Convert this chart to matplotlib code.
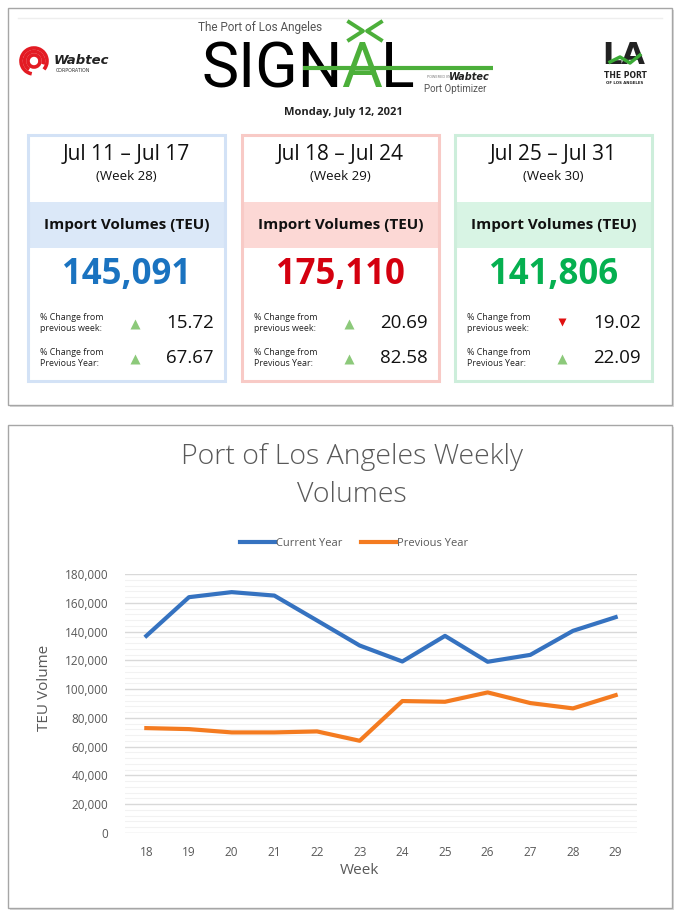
import matplotlib
matplotlib.use("Agg")
import matplotlib.pyplot as plt
from matplotlib.patches import Rectangle, Arc
from matplotlib.ticker import FuncFormatter, MultipleLocator

# ---------------- data ----------------
weeks = [18, 19, 20, 21, 22, 23, 24, 25, 26, 27, 28, 29]
current_year = [137000, 163900, 167400, 165000, 147700, 130300, 119200, 137000, 119000, 123800, 140500, 150000]
previous_year = [72900, 72200, 69900, 69900, 70600, 64100, 91700, 91200, 97700, 90300, 86600, 95800]

card_dates = ["Jul 11 \u2013 Jul 17", "Jul 18 \u2013 Jul 24", "Jul 25 \u2013 Jul 31"]
card_weeks = ["(Week 28)", "(Week 29)", "(Week 30)"]
card_volumes = ["145,091", "175,110", "141,806"]
card_week_change = ["15.72", "20.69", "19.02"]
card_week_dir = ["up", "up", "down"]
card_year_change = ["67.67", "82.58", "22.09"]
card_year_dir = ["up", "up", "up"]

W, H = 679, 913
fig = plt.figure(figsize=(W / 100, H / 100), dpi=100)
fig.patch.set_facecolor("white")

bg = fig.add_axes([0, 0, 1, 1])
bg.set_xlim(0, W)
bg.set_ylim(H, 0)
bg.axis("off")

FONT = "Open Sans"
GRAY = "#595959"

# panel frames
for (x0, y0, x1, y1) in [(8, 8, 672, 405), (8, 425, 672, 908)]:
    bg.add_patch(Rectangle((x0 + 2, y0 + 2), x1 - x0, y1 - y0, facecolor="#d9d9d9", edgecolor="none", zorder=0))
    bg.add_patch(Rectangle((x0, y0), x1 - x0, y1 - y0, facecolor="white", edgecolor="#a6a6a6", lw=1.0, zorder=1))
bg.plot([18, 662], [18, 18], color="#eeeeee", lw=1, zorder=2)

# ---------------- header ----------------
# Wabtec logo
for r, t1, t2 in [(13, 100, 400), (9.5, 120, 380), (6, 0, 360)]:
    bg.add_patch(Arc((34, 61), 2 * r, 2 * r, theta1=t1, theta2=t2, color="#e31b23", lw=2.6, zorder=3))
bg.text(54, 60, "Wabtec", fontsize=9.5, fontweight="bold", style="italic", color="#222222",
        family="DejaVu Sans", ha="left", va="center", zorder=3)
bg.text(56, 71, "CORPORATION", fontsize=3.4, color="#333333", ha="left", va="center", zorder=3)

# SIGNAL logo
bg.text(198, 27, "The Port of Los Angeles", fontsize=8.5, color="#555555", family="Roboto",
        ha="left", va="center", zorder=3)
renderer = fig.canvas.get_renderer()
x = 201
for part, col in [("SIGN", "black"), ("A", "#4caf3a"), ("L", "black")]:
    t = bg.text(x, 87, part, fontsize=45, color=col, family="Roboto", fontweight="normal",
                ha="left", va="baseline", zorder=3)
    bb = t.get_window_extent(renderer)
    x += bb.width * (W / fig.bbox.width) - 1
bg.plot([303, 493], [68, 68], color="#4caf3a", lw=3, zorder=4, solid_capstyle="butt")
bg.plot([349, 363, 349], [22, 31, 40], color="#4caf3a", lw=2.8, zorder=4)
bg.plot([381, 367, 381], [22, 31, 40], color="#4caf3a", lw=2.8, zorder=4)
bg.text(427, 77, "POWERED BY", fontsize=2.5, color="#777777", ha="left", va="center", zorder=3)
bg.text(490, 77, "Wabtec", fontsize=7, fontweight="bold", style="italic", color="#222222",
        ha="right", va="center", zorder=3)
bg.text(424, 89, "Port Optimizer", fontsize=7, color="#555555", family="Roboto",
        ha="left", va="center", zorder=3)

# LA logo
bg.text(624, 56, "LA", fontsize=22, fontweight="bold", color="#222222", family="DejaVu Sans Condensed",
        ha="center", va="center", zorder=3)
bg.plot([610, 620, 630, 640], [62, 57, 63, 55], color="#3aaa35", lw=2.5, zorder=4)
bg.text(625, 75, "THE PORT", fontsize=5.5, fontweight="bold", color="#222222", family="DejaVu Sans Condensed",
        ha="center", va="center", zorder=3)
bg.text(625, 83, "OF LOS ANGELES", fontsize=2.8, fontweight="bold", color="#222222",
        ha="center", va="center", zorder=3)

bg.text(343, 113, "Monday, July 12, 2021", fontsize=8, fontweight="bold", color="#222222",
        family=FONT, ha="center", va="center", zorder=3)

# ---------------- cards ----------------
card_left = [28, 242, 455]
card_w = 197
band_cols = ["#dbe8f8", "#fcd8d5", "#d8f4e4"]
edge_cols = ["#d3e2f6", "#f8cac6", "#cdeedb"]
num_cols = ["#1a73c0", "#d4000f", "#05b050"]
for i, x0 in enumerate(card_left):
    xc = x0 + card_w / 2
    bg.add_patch(Rectangle((x0, 202), card_w, 46, facecolor=band_cols[i], edgecolor="none", zorder=2))
    bg.add_patch(Rectangle((x0, 135), card_w, 246, facecolor="none", edgecolor=edge_cols[i], lw=2.2, zorder=3))
    bg.text(xc, 155, card_dates[i], fontsize=15, color="#111111", family=FONT, ha="center", va="center", zorder=4)
    bg.text(xc, 177, card_weeks[i], fontsize=9.5, color="#111111", family=FONT, ha="center", va="center", zorder=4)
    bg.text(xc, 225, "Import Volumes (TEU)", fontsize=11, fontweight="bold", color="#111111",
            family=FONT, ha="center", va="center", zorder=4)
    bg.text(xc, 275, card_volumes[i], fontsize=25, fontweight="bold", color=num_cols[i],
            family=FONT, ha="center", va="center", zorder=4)
    rows = [(323, "% Change from\nprevious week:", card_week_dir[i], card_week_change[i]),
            (358, "% Change from\nPrevious Year:", card_year_dir[i], card_year_change[i])]
    for y, lab, d, val in rows:
        bg.text(x0 + 12, y, lab, fontsize=6.4, color="#222222", family=FONT, ha="left", va="center",
                linespacing=1.25, zorder=4)
        if d == "up":
            bg.plot([x0 + 107], [y + 1], marker="^", ms=6.5, color="#8cc97a", mec="none", zorder=4)
        else:
            bg.plot([x0 + 107], [y - 1], marker="v", ms=6, color="#e01010", mec="none", zorder=4)
        bg.text(x0 + 186, y, val, fontsize=13.5, color="#111111", family=FONT, ha="right", va="center", zorder=4)

# ---------------- chart ----------------
bg.text(352, 457, "Port of Los Angeles Weekly", fontsize=20.5, color=GRAY, family=FONT, fontweight="light",
        ha="center", va="center", zorder=3)
bg.text(352, 495, "Volumes", fontsize=20.5, color=GRAY, family=FONT, fontweight="light",
        ha="center", va="center", zorder=3)

ax = fig.add_axes([125 / W, 1 - 833 / H, 512 / W, 259 / H])
ax.set_facecolor("none")
xpos = list(range(len(weeks)))
ax.plot(xpos, current_year, color="#3572c0", lw=3.0, label="Current Year", solid_joinstyle="round", zorder=3)
ax.plot(xpos, previous_year, color="#f47b20", lw=3.0, label="Previous Year", solid_joinstyle="round", zorder=3)
ax.set_xlim(-0.5, len(weeks) - 0.5)
ax.set_ylim(0, 180000)
ax.set_xticks(xpos)
ax.set_xticklabels([str(w) for w in weeks])
ax.yaxis.set_major_locator(MultipleLocator(20000))
ax.yaxis.set_minor_locator(MultipleLocator(4000))
ax.yaxis.set_major_formatter(FuncFormatter(lambda v, p: f"{int(v):,}"))
ax.grid(axis="y", which="major", color="#d9d9d9", lw=1.0, zorder=0)
ax.grid(axis="y", which="minor", color="#f2f2f2", lw=0.8, zorder=0)
ax.set_axisbelow(True)
for s in ax.spines.values():
    s.set_visible(False)
ax.tick_params(axis="both", which="both", length=0, labelsize=8.5, labelcolor=GRAY)
ax.tick_params(axis="y", pad=12)
ax.tick_params(axis="x", pad=9)
for lab in ax.get_xticklabels() + ax.get_yticklabels():
    lab.set_family(FONT)

bg.text(45, 688, "TEU Volume", fontsize=11, color=GRAY, family=FONT, rotation=90,
        ha="center", va="center", zorder=3)
bg.text(359, 870, "Week", fontsize=11, color=GRAY, family=FONT, ha="center", va="center", zorder=3)

leg = ax.legend(loc="center", bbox_to_anchor=(354 / W, 1 - 543 / H), bbox_transform=fig.transFigure,
                ncol=2, frameon=False, handlelength=3.2, handletextpad=0.1, columnspacing=1.6,
                prop={"family": FONT, "size": 8})
for t in leg.get_texts():
    t.set_color(GRAY)

fig.savefig("out.png", dpi=100, facecolor="white")
